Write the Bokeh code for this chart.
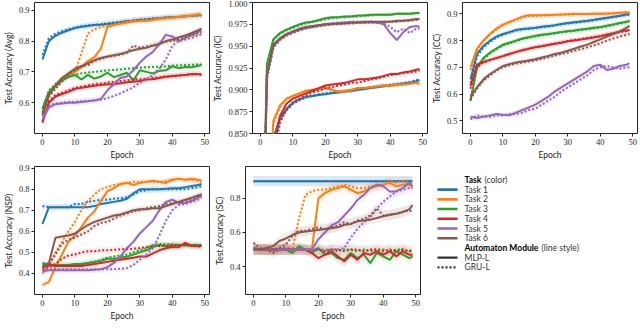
from bokeh.plotting import figure
from bokeh.layouts import row, column
from bokeh.models import FixedTicker, Range1d
from bokeh.core.properties import value
from bokeh.embed import file_html
from bokeh.resources import INLINE

# ---------------- data ----------------
EPOCHS = [0, 2, 4, 6, 8, 10, 12, 14, 16, 18, 20, 22, 24, 26, 28, 30, 32, 34, 36, 38, 40, 42, 44, 46, 48, 49]
TASKS = ["Task 1", "Task 2", "Task 3", "Task 4", "Task 5", "Task 6"]
COLORS = ["#1f77b4", "#ff7f0e", "#2ca02c", "#d62728", "#9467bd", "#8c564b"]
MODULES = ["MLP-L", "GRU-L"]
X_TICKS = [0, 10, 20, 30, 40, 50]

AVG_MLP = [
    [0.740,0.800,0.817,0.827,0.835,0.842,0.846,0.849,0.852,0.853,0.855,0.858,0.861,0.864,0.866,0.869,0.870,0.872,0.874,0.876,0.877,0.878,0.880,0.882,0.884,0.884],
    [0.565,0.625,0.655,0.675,0.690,0.700,0.715,0.735,0.748,0.775,0.845,0.852,0.856,0.860,0.863,0.866,0.866,0.868,0.872,0.874,0.876,0.878,0.880,0.882,0.886,0.884],
    [0.580,0.635,0.655,0.672,0.683,0.690,0.675,0.690,0.678,0.685,0.697,0.683,0.690,0.697,0.672,0.705,0.700,0.695,0.703,0.705,0.718,0.712,0.716,0.715,0.720,0.722],
    [0.535,0.600,0.620,0.628,0.635,0.645,0.648,0.652,0.655,0.657,0.660,0.660,0.663,0.666,0.668,0.670,0.675,0.676,0.680,0.684,0.686,0.688,0.690,0.693,0.692,0.690],
    [0.545,0.585,0.595,0.597,0.600,0.600,0.602,0.605,0.607,0.612,0.640,0.660,0.680,0.685,0.705,0.730,0.750,0.765,0.790,0.820,0.815,0.800,0.810,0.820,0.830,0.835],
    [0.560,0.625,0.655,0.680,0.695,0.710,0.718,0.728,0.738,0.745,0.750,0.754,0.758,0.764,0.770,0.775,0.778,0.785,0.790,0.800,0.805,0.812,0.818,0.826,0.835,0.840],
]
AVG_GRU = [
    [0.755,0.810,0.823,0.832,0.838,0.844,0.848,0.851,0.853,0.855,0.857,0.860,0.862,0.865,0.867,0.869,0.871,0.873,0.874,0.876,0.877,0.879,0.880,0.882,0.883,0.884],
    [0.565,0.630,0.655,0.675,0.690,0.700,0.760,0.825,0.838,0.845,0.850,0.855,0.858,0.862,0.866,0.866,0.868,0.870,0.872,0.874,0.876,0.879,0.882,0.884,0.888,0.886],
    [0.580,0.640,0.660,0.675,0.685,0.692,0.695,0.698,0.700,0.702,0.705,0.706,0.708,0.710,0.712,0.714,0.715,0.716,0.717,0.718,0.720,0.721,0.722,0.723,0.724,0.724],
    [0.540,0.605,0.625,0.632,0.640,0.648,0.652,0.656,0.660,0.662,0.665,0.668,0.670,0.672,0.676,0.676,0.678,0.680,0.682,0.685,0.687,0.688,0.690,0.692,0.693,0.692],
    [0.555,0.590,0.597,0.600,0.602,0.603,0.605,0.606,0.608,0.610,0.615,0.622,0.630,0.640,0.650,0.665,0.675,0.690,0.710,0.740,0.785,0.800,0.805,0.810,0.818,0.822],
    [0.570,0.620,0.645,0.668,0.690,0.705,0.718,0.722,0.735,0.742,0.748,0.752,0.756,0.762,0.785,0.778,0.782,0.786,0.792,0.798,0.800,0.806,0.812,0.818,0.825,0.828],
]

IC_MLP = [
    [0.500,0.720,0.845,0.868,0.878,0.885,0.889,0.892,0.893,0.894,0.895,0.896,0.897,0.898,0.899,0.900,0.901,0.902,0.903,0.904,0.905,0.906,0.907,0.908,0.910,0.911],
    [0.520,0.760,0.865,0.882,0.890,0.893,0.896,0.899,0.900,0.901,0.902,0.900,0.898,0.899,0.900,0.902,0.902,0.903,0.904,0.905,0.905,0.906,0.906,0.907,0.908,0.907],
    [0.600,0.930,0.958,0.965,0.969,0.972,0.975,0.977,0.978,0.980,0.982,0.983,0.983,0.984,0.984,0.985,0.985,0.986,0.986,0.986,0.986,0.987,0.987,0.987,0.988,0.988],
    [0.450,0.650,0.830,0.870,0.884,0.890,0.893,0.896,0.899,0.902,0.905,0.906,0.907,0.908,0.910,0.912,0.912,0.913,0.914,0.916,0.918,0.918,0.920,0.921,0.923,0.924],
    [0.580,0.915,0.950,0.958,0.963,0.966,0.969,0.971,0.972,0.974,0.975,0.976,0.976,0.977,0.977,0.977,0.978,0.978,0.977,0.975,0.965,0.957,0.966,0.972,0.973,0.972],
    [0.580,0.918,0.952,0.959,0.964,0.967,0.970,0.972,0.973,0.974,0.975,0.975,0.976,0.976,0.977,0.977,0.977,0.978,0.978,0.978,0.978,0.979,0.979,0.980,0.981,0.981],
]
IC_GRU = [
    [0.500,0.720,0.842,0.866,0.876,0.884,0.888,0.891,0.893,0.895,0.896,0.897,0.898,0.899,0.898,0.900,0.901,0.903,0.904,0.905,0.906,0.907,0.908,0.909,0.911,0.912],
    [0.520,0.760,0.862,0.880,0.889,0.893,0.896,0.898,0.900,0.901,0.902,0.900,0.897,0.898,0.899,0.901,0.902,0.903,0.904,0.905,0.904,0.905,0.906,0.907,0.908,0.907],
    [0.600,0.928,0.957,0.964,0.968,0.971,0.974,0.976,0.978,0.979,0.981,0.982,0.983,0.983,0.984,0.984,0.985,0.985,0.986,0.986,0.986,0.987,0.987,0.987,0.988,0.988],
    [0.450,0.640,0.820,0.862,0.878,0.886,0.890,0.894,0.897,0.899,0.902,0.903,0.905,0.906,0.908,0.908,0.910,0.912,0.913,0.915,0.917,0.918,0.919,0.920,0.921,0.922],
    [0.580,0.912,0.948,0.957,0.962,0.965,0.968,0.970,0.972,0.973,0.975,0.976,0.977,0.977,0.978,0.978,0.978,0.977,0.977,0.976,0.972,0.966,0.970,0.965,0.970,0.970],
    [0.580,0.915,0.950,0.958,0.963,0.966,0.969,0.971,0.972,0.973,0.974,0.975,0.975,0.976,0.976,0.977,0.977,0.977,0.977,0.978,0.978,0.978,0.979,0.979,0.980,0.980],
]

CC_MLP = [
    [0.655,0.750,0.780,0.800,0.815,0.825,0.832,0.840,0.844,0.846,0.848,0.852,0.855,0.858,0.862,0.866,0.869,0.872,0.875,0.878,0.882,0.886,0.890,0.893,0.898,0.900],
    [0.700,0.770,0.800,0.825,0.845,0.860,0.870,0.880,0.890,0.895,0.895,0.895,0.896,0.897,0.898,0.899,0.900,0.900,0.900,0.901,0.901,0.902,0.903,0.905,0.906,0.905],
    [0.575,0.700,0.735,0.755,0.770,0.785,0.792,0.800,0.808,0.813,0.818,0.822,0.825,0.829,0.832,0.836,0.838,0.842,0.845,0.848,0.851,0.856,0.861,0.866,0.871,0.874],
    [0.630,0.710,0.720,0.728,0.735,0.742,0.750,0.757,0.764,0.770,0.775,0.779,0.784,0.788,0.792,0.798,0.801,0.804,0.808,0.812,0.816,0.822,0.828,0.834,0.838,0.840],
    [0.515,0.510,0.515,0.520,0.525,0.522,0.520,0.530,0.540,0.550,0.560,0.575,0.590,0.610,0.625,0.640,0.655,0.670,0.685,0.705,0.710,0.690,0.695,0.705,0.710,0.715],
    [0.590,0.625,0.655,0.675,0.690,0.705,0.712,0.718,0.722,0.726,0.730,0.737,0.743,0.750,0.755,0.762,0.770,0.778,0.785,0.795,0.805,0.815,0.825,0.835,0.848,0.855],
]
CC_GRU = [
    [0.640,0.740,0.775,0.795,0.812,0.822,0.830,0.838,0.842,0.845,0.847,0.850,0.853,0.857,0.861,0.864,0.867,0.870,0.873,0.876,0.880,0.884,0.888,0.892,0.896,0.898],
    [0.690,0.765,0.800,0.823,0.842,0.858,0.868,0.878,0.887,0.892,0.893,0.894,0.895,0.896,0.897,0.898,0.899,0.899,0.900,0.900,0.901,0.901,0.902,0.904,0.905,0.905],
    [0.575,0.695,0.730,0.752,0.768,0.782,0.790,0.798,0.806,0.811,0.816,0.820,0.824,0.827,0.831,0.834,0.837,0.840,0.843,0.846,0.849,0.854,0.859,0.864,0.869,0.872],
    [0.620,0.700,0.718,0.726,0.734,0.742,0.750,0.758,0.765,0.771,0.776,0.780,0.785,0.789,0.794,0.799,0.803,0.806,0.810,0.814,0.818,0.823,0.828,0.832,0.836,0.838],
    [0.505,0.520,0.515,0.515,0.520,0.520,0.525,0.525,0.530,0.540,0.545,0.560,0.575,0.590,0.610,0.625,0.640,0.655,0.670,0.690,0.700,0.705,0.700,0.695,0.700,0.700],
    [0.580,0.620,0.650,0.670,0.688,0.700,0.708,0.714,0.718,0.722,0.726,0.732,0.738,0.744,0.750,0.755,0.762,0.768,0.775,0.782,0.790,0.800,0.808,0.815,0.822,0.825],
]

NSP_MLP = [
    [0.635,0.715,0.715,0.715,0.715,0.715,0.715,0.715,0.720,0.730,0.735,0.740,0.745,0.755,0.780,0.800,0.800,0.800,0.800,0.802,0.805,0.805,0.810,0.815,0.820,0.825],
    [0.345,0.360,0.430,0.490,0.550,0.580,0.620,0.665,0.695,0.745,0.790,0.805,0.825,0.830,0.820,0.830,0.835,0.840,0.835,0.830,0.845,0.850,0.845,0.850,0.845,0.840],
    [0.450,0.440,0.440,0.440,0.440,0.445,0.445,0.450,0.455,0.460,0.470,0.470,0.475,0.480,0.490,0.500,0.510,0.525,0.535,0.530,0.530,0.535,0.535,0.535,0.535,0.535],
    [0.430,0.440,0.435,0.435,0.435,0.435,0.435,0.440,0.445,0.450,0.455,0.460,0.465,0.470,0.475,0.480,0.480,0.495,0.510,0.520,0.525,0.525,0.545,0.530,0.530,0.530],
    [0.410,0.415,0.415,0.415,0.415,0.415,0.415,0.415,0.418,0.420,0.430,0.450,0.480,0.520,0.550,0.590,0.620,0.650,0.700,0.740,0.750,0.735,0.735,0.745,0.760,0.770],
    [0.430,0.450,0.570,0.575,0.580,0.590,0.610,0.630,0.645,0.655,0.665,0.675,0.680,0.690,0.700,0.705,0.705,0.710,0.710,0.720,0.730,0.740,0.750,0.760,0.770,0.775],
]
NSP_GRU = [
    [0.720,0.715,0.715,0.715,0.715,0.730,0.730,0.740,0.745,0.750,0.750,0.755,0.758,0.762,0.775,0.790,0.795,0.800,0.800,0.800,0.800,0.800,0.800,0.805,0.810,0.815],
    [0.400,0.440,0.500,0.550,0.600,0.645,0.700,0.745,0.775,0.800,0.810,0.820,0.825,0.830,0.835,0.835,0.835,0.835,0.835,0.840,0.845,0.850,0.845,0.845,0.840,0.835],
    [0.440,0.440,0.440,0.440,0.440,0.440,0.445,0.450,0.455,0.465,0.475,0.480,0.485,0.490,0.500,0.510,0.520,0.535,0.540,0.540,0.540,0.535,0.530,0.535,0.535,0.535],
    [0.420,0.430,0.445,0.470,0.485,0.490,0.500,0.505,0.505,0.510,0.510,0.512,0.515,0.515,0.518,0.520,0.525,0.530,0.530,0.532,0.535,0.535,0.535,0.530,0.528,0.525],
    [0.410,0.420,0.420,0.420,0.420,0.420,0.420,0.420,0.420,0.420,0.420,0.420,0.422,0.425,0.440,0.465,0.490,0.520,0.580,0.650,0.700,0.725,0.730,0.740,0.750,0.760],
    [0.430,0.440,0.490,0.540,0.560,0.570,0.585,0.600,0.625,0.640,0.645,0.660,0.675,0.685,0.695,0.700,0.710,0.715,0.720,0.730,0.735,0.740,0.745,0.755,0.770,0.775],
]

SC_MLP = [
    [0.90,0.90,0.90,0.90,0.90,0.90,0.90,0.90,0.90,0.90,0.90,0.90,0.90,0.90,0.90,0.90,0.90,0.90,0.90,0.90,0.90,0.90,0.90,0.90,0.90,0.90],
    [0.50,0.50,0.50,0.50,0.50,0.50,0.50,0.50,0.50,0.50,0.80,0.83,0.85,0.86,0.87,0.85,0.83,0.84,0.86,0.87,0.88,0.89,0.87,0.88,0.88,0.87],
    [0.50,0.50,0.50,0.50,0.50,0.50,0.48,0.52,0.50,0.48,0.51,0.47,0.48,0.45,0.44,0.48,0.45,0.47,0.42,0.48,0.46,0.44,0.49,0.47,0.45,0.46],
    [0.50,0.50,0.50,0.50,0.50,0.50,0.50,0.50,0.50,0.48,0.45,0.47,0.49,0.46,0.43,0.47,0.44,0.48,0.47,0.49,0.47,0.49,0.46,0.49,0.47,0.47],
    [0.50,0.50,0.50,0.50,0.50,0.50,0.50,0.50,0.50,0.50,0.56,0.60,0.64,0.66,0.70,0.74,0.79,0.82,0.86,0.88,0.87,0.84,0.84,0.86,0.89,0.87],
    [0.51,0.50,0.51,0.52,0.55,0.565,0.585,0.60,0.605,0.61,0.615,0.62,0.625,0.63,0.645,0.65,0.665,0.67,0.675,0.685,0.695,0.705,0.71,0.72,0.735,0.76],
]
SC_GRU = [
    [0.90,0.90,0.90,0.90,0.90,0.90,0.90,0.90,0.90,0.90,0.90,0.90,0.90,0.90,0.90,0.90,0.90,0.90,0.90,0.90,0.90,0.90,0.90,0.90,0.90,0.90],
    [0.50,0.50,0.50,0.50,0.50,0.50,0.50,0.68,0.82,0.84,0.85,0.85,0.86,0.87,0.88,0.87,0.86,0.86,0.87,0.88,0.88,0.90,0.89,0.90,0.89,0.88],
    [0.50,0.50,0.50,0.49,0.50,0.50,0.50,0.51,0.50,0.49,0.50,0.49,0.50,0.49,0.50,0.50,0.49,0.50,0.49,0.50,0.50,0.49,0.50,0.50,0.49,0.50],
    [0.50,0.50,0.50,0.48,0.50,0.51,0.50,0.50,0.50,0.50,0.50,0.49,0.50,0.50,0.49,0.50,0.50,0.49,0.50,0.50,0.49,0.50,0.49,0.50,0.49,0.49],
    [0.50,0.50,0.50,0.50,0.50,0.50,0.50,0.50,0.50,0.50,0.50,0.50,0.50,0.50,0.51,0.57,0.62,0.66,0.69,0.74,0.78,0.81,0.84,0.85,0.86,0.86],
    [0.54,0.51,0.50,0.50,0.51,0.53,0.58,0.61,0.61,0.62,0.63,0.62,0.63,0.64,0.66,0.65,0.67,0.68,0.70,0.74,0.70,0.70,0.71,0.72,0.73,0.72],
]

AVG_TICKS = [0.6, 0.7, 0.8, 0.9]
IC_TICKS = [0.850, 0.875, 0.900, 0.925, 0.950, 0.975, 1.000]
CC_TICKS = [0.5, 0.6, 0.7, 0.8, 0.9]
NSP_TICKS = [0.4, 0.5, 0.6, 0.7, 0.8, 0.9]
SC_TICKS = [0.4, 0.6, 0.8]

# ---------------- style ----------------
SERIF = "Liberation Serif"
SANS = "Lato"
INK = "#262626"
FW = 175


def panel(ylabel, mlp, gru, yrange, yticks, ydigits, left, right, top, bottom, fh, pad):
    p = figure(frame_width=FW, frame_height=fh,
               x_range=Range1d(-2.45, 51.45), y_range=Range1d(*yrange),
               output_backend="svg", toolbar_location=None,
               min_border_left=left, min_border_right=right,
               min_border_top=top, min_border_bottom=bottom)
    p.grid.visible = False
    p.outline_line_color = INK
    p.outline_line_width = 1
    p.background_fill_color = "white"
    p.border_fill_color = "white"
    for i in range(6):
        for series in (mlp[i], gru[i]):
            p.varea(x=EPOCHS, y1=[v - pad for v in series], y2=[v + pad for v in series],
                    fill_color=COLORS[i], fill_alpha=0.08)
    for i in range(6):
        p.line(EPOCHS, mlp[i], line_color=COLORS[i], line_width=2)
        p.line(EPOCHS, gru[i], line_color=COLORS[i], line_width=2,
               line_dash="2 2")
    p.xaxis.ticker = FixedTicker(ticks=X_TICKS)
    p.xaxis.major_label_overrides = {t: str(t) for t in X_TICKS}
    p.yaxis.ticker = FixedTicker(ticks=yticks)
    p.yaxis.major_label_overrides = {t: f"{t:.{ydigits}f}" for t in yticks}
    p.xaxis.axis_label = "Epoch"
    p.yaxis.axis_label = ylabel
    for ax in (p.xaxis[0], p.yaxis[0]):
        ax.axis_line_color = None
        ax.major_tick_in = 0
        ax.major_tick_out = 3
        ax.major_tick_line_color = INK
        ax.minor_tick_line_color = None
        ax.major_label_text_font = SERIF
        ax.major_label_text_font_size = "8.5px"
        ax.major_label_text_color = INK
        ax.major_label_standoff = 2
        ax.axis_label_text_font = SANS
        ax.axis_label_text_font_size = "8.5px"
        ax.axis_label_text_font_style = "normal"
        ax.axis_label_text_color = INK
        ax.axis_label_standoff = 2
    return p


p1 = panel("Test Accuracy (Avg)", AVG_MLP, AVG_GRU, (0.500, 0.925), AVG_TICKS, 1, 27, 1, 2, 25, 131, 0.010)
p2 = panel("Test Accuracy (IC)", IC_MLP, IC_GRU, (0.850, 1.000), IC_TICKS, 3, 35, 1, 2, 25, 131, 0.002)
p3 = panel("Test Accuracy (CC)", CC_MLP, CC_GRU, (0.452, 0.943), CC_TICKS, 1, 33, 2, 2, 25, 131, 0.010)
p4 = panel("Test Accuracy (NSP)", NSP_MLP, NSP_GRU, (0.300, 0.908), NSP_TICKS, 1, 27, 1, 4, 25, 128, 0.015)
p5 = panel("Test Accuracy (SC)", SC_MLP, SC_GRU, (0.237, 0.986), SC_TICKS, 1, 35, 1, 4, 25, 128, 0.030)

# legend panel
W6, H6 = 210, 157
lg = figure(width=W6, height=H6, x_range=Range1d(0, W6), y_range=Range1d(H6, 0),
            output_backend="svg", toolbar_location=None,
            x_axis_location=None, y_axis_location=None,
            min_border=0)
lg.grid.visible = False
lg.outline_line_color = None
x0, x1, xt = 16, 36, 43
FS = "8.5px"
ys = [17 + 12.3 * k for k in range(10)]
lg.text(x=[xt], y=[ys[0]], text=["Task"], text_font=value(SANS), text_font_style="bold",
        text_font_size=FS, text_baseline="middle", text_color="black")
lg.text(x=[xt + 20], y=[ys[0]], text=["(color)"], text_font=value(SANS),
        text_font_size=FS, text_baseline="middle", text_color="#333333")
for k in range(6):
    y = ys[1 + k]
    lg.segment(x0=[x0], y0=[y], x1=[x1], y1=[y], line_color=COLORS[k], line_width=2.6)
    lg.text(x=[xt], y=[y], text=[TASKS[k]], text_font=value(SANS),
            text_font_size=FS, text_baseline="middle", text_color="#333333")
lg.text(x=[xt], y=[ys[7]], text=["Automaton Module"], text_font=value(SANS), text_font_style="bold",
        text_font_size=FS, text_baseline="middle", text_color="black")
lg.text(x=[xt + 77], y=[ys[7]], text=["(line style)"], text_font=value(SANS),
        text_font_size=FS, text_baseline="middle", text_color="#333333")
for k, dash in enumerate(["solid", "2 2"]):
    y = ys[8 + k]
    lg.segment(x0=[x0], y0=[y], x1=[x1], y1=[y], line_color="#333333", line_width=2.3, line_dash=dash)
    lg.text(x=[xt], y=[y], text=[MODULES[k]], text_font=value(SANS),
            text_font_size=FS, text_baseline="middle", text_color="#333333")

layout = column(row(p1, p2, p3), row(p4, p5, lg))
open("out.html", "w").write(file_html(layout, INLINE))
